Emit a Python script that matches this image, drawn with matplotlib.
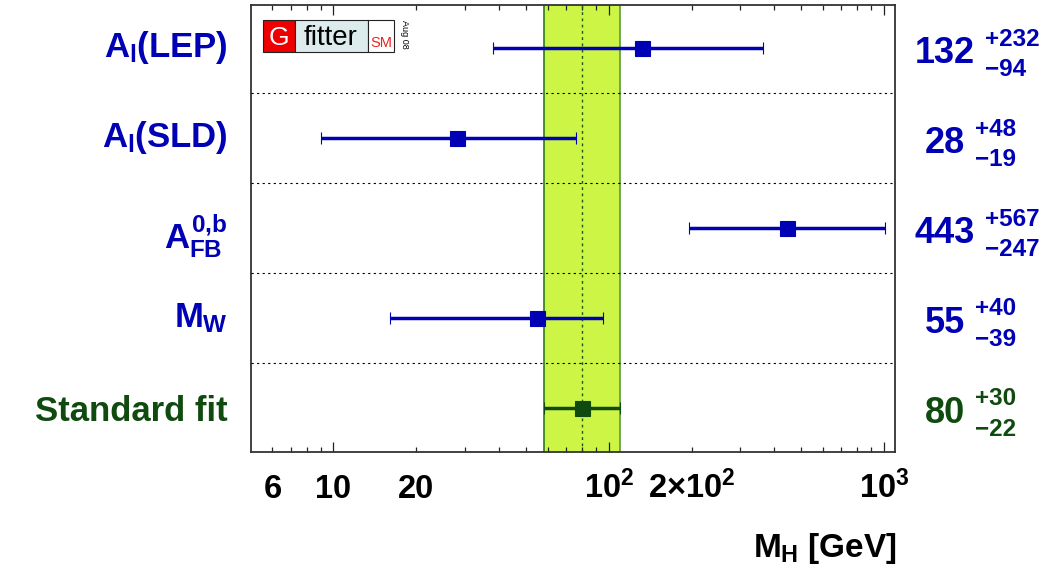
import matplotlib
matplotlib.use('Agg')
import matplotlib.pyplot as plt
import matplotlib.transforms as mtransforms
from matplotlib.patches import Rectangle

# data (Higgs mass from each observable)
names = [r'$A_l(LEP)$', r'$A_l(SLD)$', r'$A_{FB}^{0{,}b}$', r'$M_W$', 'Standard fit']
mh = [132, 28, 443, 55, 80]
err_up = [232, 48, 567, 40, 30]
err_dn = [94, 19, 247, 39, 22]

major_ticks = [10, 100, 1000]
major_labels = ['10', r'$10^2$', r'$10^3$']
minor_ticks = [6, 7, 8, 9, 20, 30, 40, 50, 60, 70, 80, 90,
               200, 300, 400, 500, 600, 700, 800, 900]
minor_labels = {6: '6', 20: '20', 200: r'$2{\times}10^2$'}

W, H = 1060, 573
blue = '#0000b4'
green = '#0f4a0f'
colors = [blue, blue, blue, blue, green]
label_drop = [9, 9, 20, 9, 13]   # baseline below row centre, px

plt.rcParams['font.family'] = ['Liberation Sans', 'DejaVu Sans']
plt.rcParams['font.weight'] = 'bold'
plt.rcParams['mathtext.fontset'] = 'custom'
plt.rcParams['mathtext.rm'] = 'Liberation Sans:bold'
plt.rcParams['mathtext.it'] = 'Liberation Sans:bold'
plt.rcParams['mathtext.bf'] = 'Liberation Sans:bold'
plt.rcParams['mathtext.sf'] = 'Liberation Sans:bold'

fig = plt.figure(figsize=(W / 100, H / 100), dpi=100)
ax = fig.add_axes([251 / W, 1 - 452 / H, (895 - 251) / W, (452 - 5) / H])
ax.set_xscale('log')
ax.set_xlim(5.02, 1096)
ax.set_ylim(-0.49, 4.48)

ys = list(range(len(names) - 1, -1, -1))

# green band of the standard fit
lo = mh[-1] - err_dn[-1]
hi = mh[-1] + err_up[-1]
ax.axvspan(lo, hi, color='#cdf546', lw=0, zorder=1)
ax.axvline(lo, color='#2d7a1d', lw=1.2, zorder=2)
ax.axvline(hi, color='#5a9a3a', lw=1.2, zorder=2)
ax.axvline(mh[-1], color='#1d5a10', lw=1.0, ls=(0, (2, 2.5)), zorder=2)

# separators
for y in ys[:-1]:
    ax.axhline(y - 0.5, color='k', lw=0.8, ls=(0, (2, 3)), zorder=3)

for i, y in enumerate(ys):
    ax.errorbar(mh[i], y, xerr=[[err_dn[i]], [err_up[i]]], fmt='s', color=colors[i],
                ms=10.8, mec=colors[i], mew=0.8, elinewidth=2.5, capsize=4,
                capthick=2.4, zorder=5)

ax.set_yticks([])
ax.set_xticks(major_ticks)
ax.set_xticklabels(major_labels)
ax.set_xticks(minor_ticks, minor=True)
ax.set_xticklabels([minor_labels.get(t, '') for t in minor_ticks], minor=True)
ax.tick_params(axis='x', which='both', direction='in', top=True, bottom=True,
               labelsize=23.5, pad=33, width=0.9, color='#222222')
ax.tick_params(axis='x', which='major', length=7.2)
ax.tick_params(axis='x', which='minor', length=3.6)
for lab in ax.get_xticklabels(which='both'):
    lab.set_verticalalignment('baseline')
for sp in ax.spines.values():
    sp.set_color('#333333')
    sp.set_linewidth(1.3)

trans = mtransforms.blended_transform_factory(fig.transFigure, ax.transData)

# row labels on the left and the values on the right
nums = []
for i, y in enumerate(ys):
    ax.annotate(names[i], xy=(228 / W, y), xycoords=trans, xytext=(0, -label_drop[i]),
                textcoords='offset pixels', ha='right', va='baseline', fontsize=25,
                color=colors[i], annotation_clip=False)
    t = ax.annotate(str(mh[i]), xy=(945 / W, y), xycoords=trans, xytext=(0, -15),
                    textcoords='offset pixels', ha='center', va='baseline', fontsize=26,
                    color=colors[i], annotation_clip=False)
    nums.append(t)

fig.canvas.draw()
for i, y in enumerate(ys):
    bb = nums[i].get_window_extent()
    xs = (bb.x1 + 10) / W
    ax.annotate('+%d' % err_up[i], xy=(xs, y), xycoords=trans, xytext=(0, 2.5),
                textcoords='offset pixels', ha='left', va='baseline', fontsize=17.5,
                color=colors[i], annotation_clip=False)
    ax.annotate('\u2212%d' % err_dn[i], xy=(xs, y), xycoords=trans, xytext=(0, -28),
                textcoords='offset pixels', ha='left', va='baseline', fontsize=17.5,
                color=colors[i], annotation_clip=False)

fig.text(897 / W, 1 - 557 / H, r'$M_H$ [GeV]', ha='right', va='baseline', fontsize=24)

# Gfitter logo
def box(x0, x1, fc):
    fig.add_artist(Rectangle((x0 / W, 1 - 52 / H), (x1 - x0) / W, 32 / H, transform=fig.transFigure,
                             facecolor=fc, edgecolor='#222222', lw=0.8))

box(263, 295, '#ee0000')
box(295, 368, '#dcecec')
box(368, 394, 'white')
fig.text(279 / W, 1 - 45 / H, 'G', color='white', fontsize=19, fontweight='normal',
         ha='center', va='baseline')
fig.text(331 / W, 1 - 45 / H, 'fitter', color='black', fontsize=20, fontweight='normal',
         ha='center', va='baseline')
fig.text(381 / W, 1 - 47 / H, 'SM', color='#ee2222', fontsize=10.5, fontweight='normal',
         ha='center', va='baseline')
fig.text(404 / W, 1 - 34 / H, 'Aug 08', color='black', fontsize=6.5, fontweight='normal',
         rotation=-90, ha='center', va='center')

fig.savefig('out.png', dpi=100)
